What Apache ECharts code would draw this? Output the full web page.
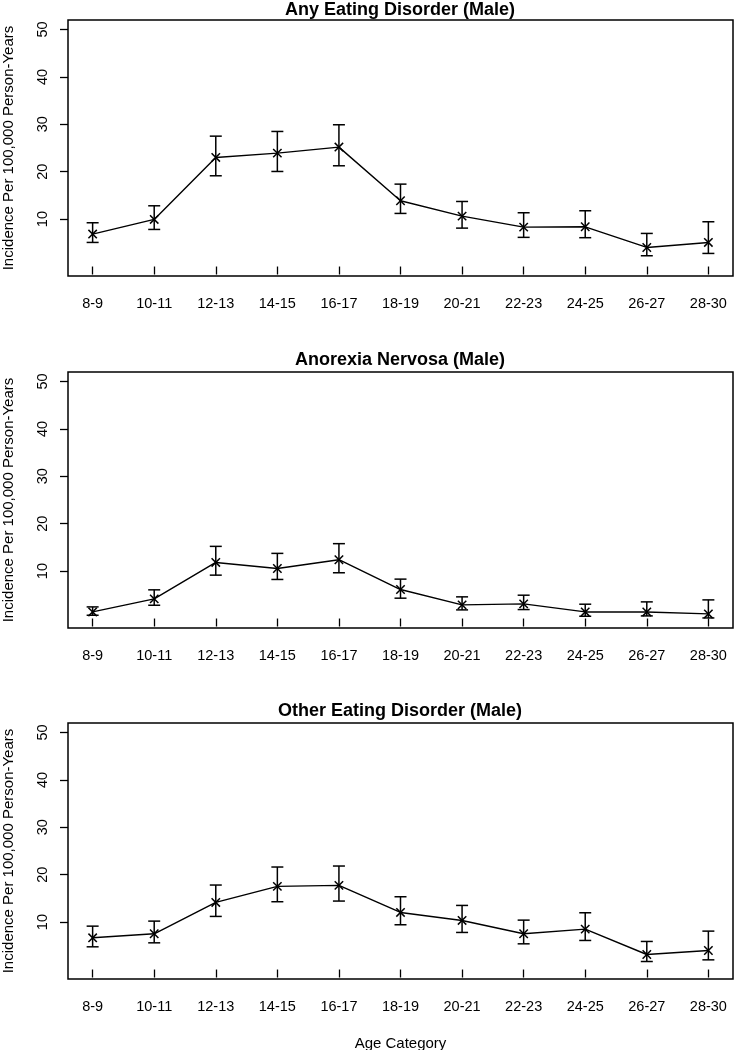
<!DOCTYPE html>
<html>
<head>
<meta charset="utf-8">
<script src="https://cdn.jsdelivr.net/npm/echarts@6/dist/echarts.min.js"></script>
<style>html,body{margin:0;padding:0;background:#fff}#c{width:734px;height:1050px}</style>
</head>
<body>
<div id="c"></div>
<script>
const categories = ['8-9','10-11','12-13','14-15','16-17','18-19','20-21','22-23','24-25','26-27','28-30'];
const yTicks = [10, 20, 30, 40, 50];
const titles = ['Any Eating Disorder (Male)', 'Anorexia Nervosa (Male)', 'Other Eating Disorder (Male)'];
const yTitle = 'Incidence Per 100,000 Person-Years';
const xTitle = 'Age Category';

const anyVal  = [6.84, 9.93, 23.01, 23.92, 25.19, 13.87, 10.63, 8.31, 8.38, 4.02, 5.08];
const anyLow  = [5.08, 7.82, 19.14, 20.05, 21.25, 11.2, 8.1, 6.15, 6.08, 2.27, 2.76];
const anyHigh = [9.23, 12.81, 27.5, 28.49, 29.9, 17.38, 13.72, 11.34, 11.76, 6.98, 9.44];

const anVal  = [1.39, 4.14, 11.83, 10.56, 12.4, 6.12, 2.88, 3.09, 1.39, 1.39, 0.97];
const anLow  = [0.69, 2.8, 9.15, 8.24, 9.65, 4.29, 1.82, 1.89, 0.48, 0.55, 0.12];
const anHigh = [2.45, 6.05, 15.22, 13.74, 15.79, 8.31, 4.57, 4.92, 3.02, 3.51, 3.93];

const otherVal  = [6.69, 7.54, 14.15, 17.54, 17.75, 12.04, 10.35, 7.54, 8.52, 3.17, 4.01];
const otherLow  = [4.79, 5.63, 11.2, 14.3, 14.44, 9.44, 7.82, 5.42, 6.13, 1.69, 2.04];
const otherHigh = [9.15, 10.21, 17.82, 21.62, 21.83, 15.35, 13.52, 10.42, 11.97, 5.92, 8.1];

const panels = [
  {val: anyVal, low: anyLow, high: anyHigh},
  {val: anVal, low: anLow, high: anHigh},
  {val: otherVal, low: otherLow, high: otherHigh}
];

const FONT = '"Liberation Sans", Arial, Helvetica, sans-serif';
const gridTops = [20, 372, 723];
const gridH = 256;
const titleTops = [1, 351, 702];
const xPos = categories.map((c, i) => i + 1);

const grids = [], xAxes = [], yAxes = [], series = [], titleOpts = [];
panels.forEach((p, k) => {
  grids.push({left: 68, width: 665, top: gridTops[k], height: gridH, show: true,
    outerBoundsMode: 'none', containLabel: false,
    borderColor: '#000', borderWidth: 1.5, backgroundColor: 'transparent'});
  titleOpts.push({text: titles[k], left: 400, top: titleTops[k], textAlign: 'center', padding: 0,
    textStyle: {fontFamily: FONT, fontWeight: 'bold', fontSize: 18, color: '#000'}});
  xAxes.push({type: 'value', gridIndex: k, min: 0.6, max: 11.4,
    axisLine: {show: false}, splitLine: {show: false},
    axisTick: {show: true, inside: false, length: 8, customValues: xPos, lineStyle: {color: '#000', width: 1.3}},
    axisLabel: {show: true, margin: 20, customValues: xPos, fontFamily: FONT, fontSize: 14.5, color: '#000',
      formatter: v => categories[Math.round(v) - 1]},
    name: k === 2 ? xTitle : '', nameLocation: 'middle', nameGap: 57,
    nameTextStyle: {fontFamily: FONT, fontSize: 15, color: '#000'}});
  yAxes.push({type: 'value', gridIndex: k, min: -2, max: 52,
    axisLine: {show: false}, splitLine: {show: false},
    axisTick: {show: true, inside: false, length: 8, customValues: yTicks, lineStyle: {color: '#000', width: 1.3}},
    axisLabel: {show: true, rotate: 90, margin: 18, customValues: yTicks, fontFamily: FONT, fontSize: 14.5, color: '#000'},
    name: yTitle, nameLocation: 'middle', nameGap: 52, nameRotate: 90,
    nameTextStyle: {fontFamily: FONT, fontSize: 15, color: '#000'}});
  series.push({type: 'line', xAxisIndex: k, yAxisIndex: k, showSymbol: false, silent: true,
    data: p.val.map((v, i) => [xPos[i], v]),
    lineStyle: {color: '#000', width: 1.4}});
  series.push({type: 'custom', xAxisIndex: k, yAxisIndex: k, silent: true,
    data: p.val.map((v, i) => [xPos[i], p.low[i], p.high[i], v]),
    encode: {x: 0, y: [1, 2, 3]},
    renderItem: function (params, api) {
      const x = api.value(0);
      const lo = api.coord([x, api.value(1)]);
      const hi = api.coord([x, api.value(2)]);
      const pt = api.coord([x, api.value(3)]);
      const cap = 6, m = 4.2;
      const st = {stroke: '#000', lineWidth: 1.5, fill: null};
      return {type: 'group', children: [
        {type: 'line', shape: {x1: lo[0], y1: lo[1], x2: hi[0], y2: hi[1]}, style: st},
        {type: 'line', shape: {x1: lo[0] - cap, y1: lo[1], x2: lo[0] + cap, y2: lo[1]}, style: st},
        {type: 'line', shape: {x1: hi[0] - cap, y1: hi[1], x2: hi[0] + cap, y2: hi[1]}, style: st},
        {type: 'line', shape: {x1: pt[0] - m, y1: pt[1] - m, x2: pt[0] + m, y2: pt[1] + m}, style: st},
        {type: 'line', shape: {x1: pt[0] - m, y1: pt[1] + m, x2: pt[0] + m, y2: pt[1] - m}, style: st}
      ]};
    }});
});

const chart = echarts.init(document.getElementById('c'), null, {renderer: 'canvas'});
chart.setOption({
  animation: false,
  backgroundColor: '#fff',
  title: titleOpts,
  grid: grids, xAxis: xAxes, yAxis: yAxes, series: series
});
</script>
</body>
</html>
